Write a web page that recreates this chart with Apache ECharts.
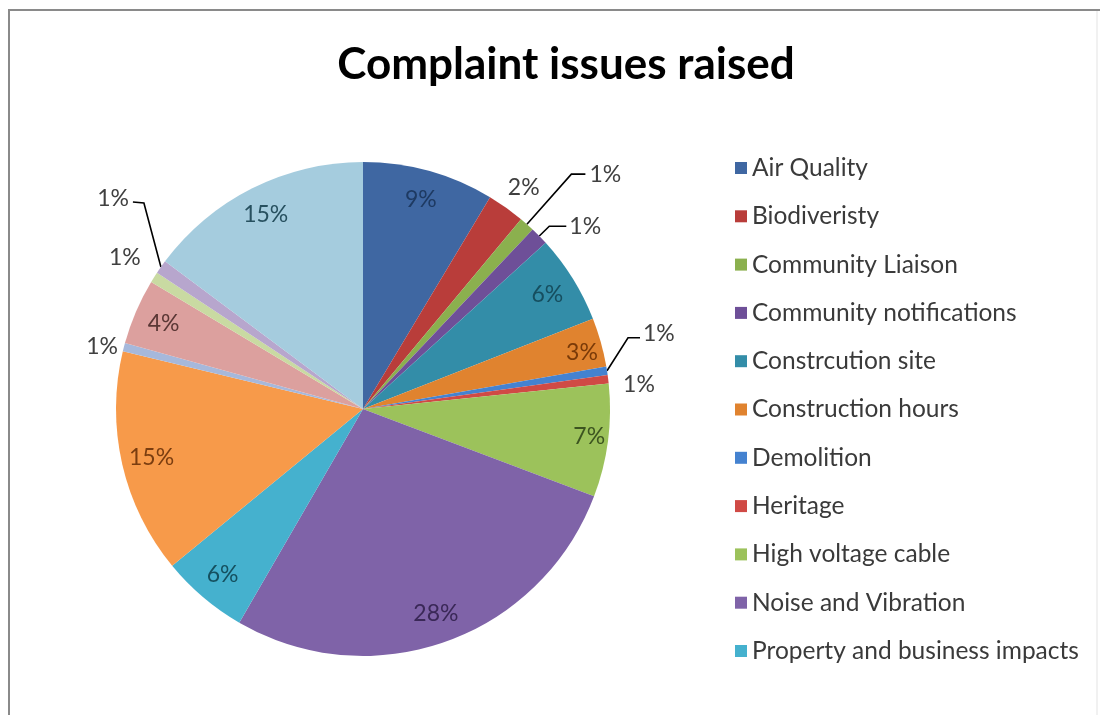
<!DOCTYPE html>
<html><head><meta charset="utf-8">
<script src="https://cdn.jsdelivr.net/npm/echarts@6/dist/echarts.min.js"></script>
<style>html,body{margin:0;padding:0;background:#fff}#chart{width:1100px;height:715px}</style>
</head><body><div id="chart"></div>
<script>
// ---- data ----
const categories = ['Air Quality','Biodiveristy','Community Liaison','Community notifications','Constrcution site','Construction hours','Demolition','Heritage','High voltage cable','Noise and Vibration','Property and business impacts','Other issue 12','Other issue 13','Other issue 14','Other issue 15','Other issue 16','Other issue 17'];
const values = [8.6, 2.45, 1.0, 1.2, 5.8, 3.2, 0.55, 0.55, 7.4, 27.6, 5.7, 14.7, 0.55, 4.3, 0.7, 0.9, 14.8];
const legendNames = categories.slice(0, 11);

// ---- styles ----
const sliceColors = ['#3F67A2','#B93D3A','#8BB04E','#6E4F98','#338DA8','#E0832F','#4482D0','#D04A45','#9CC25B','#7F63A8','#45B1CE','#F79A4A','#A6B8DB','#DCA09E','#C9DAA2','#B7A6CD','#A5CCDE'];
// inside-label colours (null => label drawn outside)
const insideColors = ['#1E3A62',null,null,null,'#164E5F','#7A3A08',null,null,'#3C5420','#3A2857','#15505F','#7A3D10',null,'#5A3735',null,null,'#27505F'];
// outside label settings: [showLine, length, length2, distance]
const outsideCfg = {1:[false,24,0,5], 2:[true,67,14,4], 3:[true,14,17,3], 6:[true,10,10,4], 7:[false,10,0,5], 12:[false,2,0,4], 14:[false,37,0,5], 15:[true,10,10,4]};
const lineTweaks = {
  6:  {mid:[21,-33], end:[33,-33], label:[36,-37], align:'left'},
  15: {mid:[-17,-64], end:[-28,-65], label:[-32,-68], align:'right'}
};
const labelOffsets = {1:[-17,0], 7:[0,7], 14:[23,0]};
const ringOffsets = {5:[10,2], 8:[11,0]};

const FONT = 'Lato';
const pct = p => Math.round(p.percent) + '%';

const mainData = categories.map((name, i) => {
  const c = outsideCfg[i];
  return {
    name, value: values[i],
    itemStyle: {color: sliceColors[i]},
    label: c ? {show: true, position: 'outside', distanceToLabelLine: c[3]} : {show: false},
    labelLine: c ? {show: c[0], length: c[1], length2: c[2]} : {show: false}
  };
});
const ringData = categories.map((name, i) => ({
  name, value: values[i],
  itemStyle: {color: 'rgba(0,0,0,0)'},
  label: insideColors[i] ? {show: true, color: insideColors[i]} : {show: false}
}));

const chart = echarts.init(document.getElementById('chart'));
chart.setOption({
  animation: false,
  backgroundColor: '#fff',
  graphic: [
    {type: 'polyline', silent: true, shape: {points: [[9, 720], [9, 10], [1100, 10]]},
     style: {fill: 'none', stroke: '#8a8a8a', lineWidth: 2}},
    {type: 'line', silent: true, shape: {x1: 1097, y1: 11, x2: 1097, y2: 720},
     style: {stroke: '#ececec', lineWidth: 1.5}}
  ],
  title: {
    text: 'Complaint issues raised', left: 561, top: 38, textAlign: 'center',
    textStyle: {fontFamily: FONT, fontWeight: 'bold', fontSize: 44, color: '#000'}
  },
  legend: {
    orient: 'vertical', left: 730, top: 150,
    data: legendNames, icon: 'rect', itemWidth: 12, itemHeight: 12, itemGap: 22.3,
    textStyle: {fontFamily: FONT, fontSize: 24.5, color: '#3a3a3a', lineHeight: 26},
    selectedMode: false
  },
  series: [{
    type: 'pie', center: [363, 409], radius: 247, startAngle: 90, clockwise: true,
    avoidLabelOverlap: false, silent: true,
    label: {fontFamily: FONT, fontSize: 23, color: '#404040', formatter: pct},
    labelLine: {lineStyle: {color: '#000', width: 1.6}, smooth: false},
    labelLayout: function (p) {
      const t = lineTweaks[p.dataIndex];
      if (t && p.labelLinePoints) {
        const e = p.labelLinePoints[0];
        return {
          x: e[0] + t.label[0], y: e[1] + t.label[1], align: t.align, verticalAlign: 'middle',
          labelLinePoints: [[e[0], e[1]], [e[0] + t.mid[0], e[1] + t.mid[1]], [e[0] + t.end[0], e[1] + t.end[1]]]
        };
      }
      const o = labelOffsets[p.dataIndex];
      return o ? {dx: o[0], dy: o[1]} : {};
    },
    data: mainData
  }, {
    type: 'pie', center: [363, 409], radius: [202, 226], startAngle: 90, clockwise: true,
    avoidLabelOverlap: false, silent: true,
    label: {position: 'inside', fontFamily: FONT, fontSize: 23, formatter: pct},
    labelLine: {show: false},
    labelLayout: function (p) {
      const o = ringOffsets[p.dataIndex];
      return o ? {dx: o[0], dy: o[1]} : {};
    },
    data: ringData
  }]
});
</script></body></html>
